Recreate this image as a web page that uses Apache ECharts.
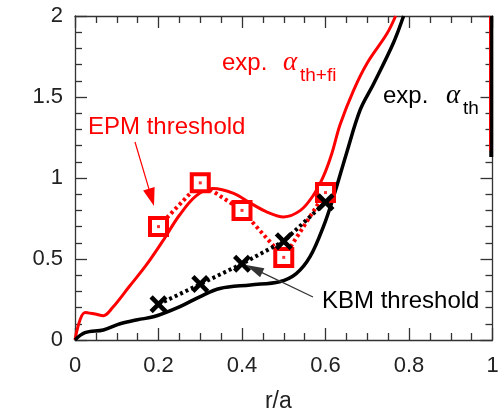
<!DOCTYPE html>
<html>
<head>
<meta charset="utf-8">
<script src="https://cdn.jsdelivr.net/npm/echarts@6/dist/echarts.min.js"></script>
<style>
  html, body { margin: 0; padding: 0; background: #fff; }
  #wrap { position: relative; width: 503px; height: 413px; }
  #frame, #plot { position: absolute; left: 0; top: 0; width: 503px; height: 413px; }
</style>
</head>
<body>
<div id="wrap"><div id="frame"></div><div id="plot"></div></div>
<script>
// Experimental pressure-gradient profiles alpha(r/a)
const alphaThFi = [
  [0, 0], [0.024, 0.17], [0.048, 0.16], [0.068, 0.15], [0.09, 0.2], [0.13, 0.33],
  [0.17, 0.46], [0.21, 0.61], [0.25, 0.77], [0.29, 0.89], [0.33, 0.935], [0.38, 0.905],
  [0.42, 0.845], [0.46, 0.79], [0.50, 0.76], [0.54, 0.80], [0.57, 0.89], [0.595, 1.01],
  [0.615, 1.15], [0.635, 1.33], [0.667, 1.54], [0.70, 1.71], [0.747, 1.89], [0.768, 2.0]
];
const alphaTh = [
  [0, 0], [0.024, 0.045], [0.068, 0.062], [0.108, 0.10], [0.15, 0.125], [0.19, 0.145],
  [0.25, 0.205], [0.30, 0.268], [0.347, 0.318], [0.42, 0.34], [0.49, 0.36], [0.53, 0.41],
  [0.563, 0.514], [0.595, 0.70], [0.62, 0.89], [0.65, 1.15], [0.683, 1.42], [0.715, 1.58],
  [0.762, 1.83], [0.787, 2.0]
];
// profile segments at the plasma edge
const edgeTh = [[0.997, 2.0], [0.997, 1.13]];
const edgeThFi = [[0.993, 2.0], [0.993, 1.17]];

// stability thresholds from the linear scans
const scanRadii = [0.2, 0.3, 0.4, 0.5, 0.6];
const epmThreshold = [0.70, 0.97, 0.80, 0.51, 0.91];
const kbmThreshold = [0.22, 0.345, 0.47, 0.61, 0.85];

const xTicks = [0, 0.2, 0.4, 0.6, 0.8, 1];
const yTicks = [0, 0.5, 1, 1.5, 2];

const RED = '#ff0000';
const BLACK = '#000000';
const AXIS = '#333333';
const TICK_TEXT = '#222222';
const SANS = 'Liberation Sans';
const SERIF = 'Liberation Serif';
const GRID = { left: 75, right: 10.5, top: 16, bottom: 73, outerBoundsMode: 'none' };

const pairs = (xs, ys) => xs.map((x, i) => [x, ys[i]]);

const crossPath = 'path://M0,1.8L1.8,0L5,3.2L8.2,0L10,1.8L6.8,5L10,8.2L8.2,10L5,6.8L1.8,10L0,8.2L3.2,5Z';

function arrow(x1, y1, x2, y2, color, width, len, half) {
  const dx = x2 - x1, dy = y2 - y1;
  const d = Math.hypot(dx, dy);
  const ux = dx / d, uy = dy / d;
  const bx = x2 - ux * len, by = y2 - uy * len;
  const nx = -uy, ny = ux;
  return [
    { type: 'line', shape: { x1, y1, x2: bx + ux * 2, y2: by + uy * 2 },
      style: { stroke: color, lineWidth: width }, z: 50 },
    { type: 'polygon',
      shape: { points: [[x2, y2], [bx + nx * half, by + ny * half], [bx - nx * half, by - ny * half]] },
      style: { fill: color }, z: 50 }
  ];
}

function label(text, x, y, color, size, family, italic, align) {
  return { type: 'text', x, y, z: 60,
    style: { text, fill: color, fontSize: size, fontFamily: family,
      fontStyle: italic ? 'italic' : 'normal', align: align || 'left', verticalAlign: 'middle' } };
}

// Boxed frame: every side carries inward major and minor ticks
function makeAxis(position, max, interval, minorSplit) {
  return {
    type: 'value', position, min: 0, max, interval,
    axisLine: { show: true, onZero: false, lineStyle: { color: AXIS, width: 1.3 } },
    axisTick: { show: true, inside: true, length: 12, lineStyle: { color: AXIS, width: 1.3 } },
    minorTick: { show: true, splitNumber: minorSplit, length: 7, lineStyle: { color: AXIS, width: 1.3 } },
    splitLine: { show: false },
    minorSplitLine: { show: false },
    axisLabel: { show: false }
  };
}

// Layer 1: the axis frame
const frame = echarts.init(document.getElementById('frame'));
frame.setOption({
  animation: false,
  backgroundColor: '#ffffff',
  grid: GRID,
  xAxis: [makeAxis('bottom', 1, 0.2, 4), makeAxis('top', 1, 0.2, 4)],
  yAxis: [makeAxis('left', 2, 0.5, 5), makeAxis('right', 2, 0.5, 5)],
  series: [{ type: 'line', data: [], silent: true }]
});

// Layer 2: profiles, thresholds, tick labels and annotations on the same scales
const plot = echarts.init(document.getElementById('plot'));
plot.setOption({
  animation: false,
  backgroundColor: 'transparent',
  grid: GRID,
  xAxis: { type: 'value', min: 0, max: 1, show: false },
  yAxis: { type: 'value', min: 0, max: 2, show: false },
  series: [
    { name: 'exp. alpha th+fi', type: 'line', data: alphaThFi, smooth: 0.35,
      showSymbol: false, lineStyle: { color: RED, width: 3 }, z: 3 },
    { name: 'exp. alpha th', type: 'line', data: alphaTh, smooth: 0.35,
      showSymbol: false, lineStyle: { color: BLACK, width: 3.5 }, z: 3 },
    { name: 'edge th', type: 'line', data: edgeTh, showSymbol: false,
      lineStyle: { color: BLACK, width: 4 }, z: 3 },
    { name: 'edge th+fi', type: 'line', data: edgeThFi, showSymbol: false,
      lineStyle: { color: RED, width: 1 }, z: 4 },
    { name: 'EPM threshold', type: 'line', data: pairs(scanRadii, epmThreshold),
      showSymbol: true, symbol: 'rect', symbolSize: 17,
      itemStyle: { color: '#ffffff', borderColor: RED, borderWidth: 4 },
      lineStyle: { color: RED, width: 4, type: [3, 3] }, z: 5 },
    { name: 'EPM threshold centre', type: 'scatter', data: pairs(scanRadii, epmThreshold),
      symbol: 'rect', symbolSize: 3, itemStyle: { color: RED }, z: 6 },
    { name: 'KBM threshold', type: 'line', data: pairs(scanRadii, kbmThreshold),
      showSymbol: true, symbol: crossPath, symbolSize: 18,
      itemStyle: { color: BLACK }, lineStyle: { color: BLACK, width: 4, type: [3, 3] }, z: 7 }
  ]
});

// Tick labels and the axis title, placed through the chart's own scales
const toPx = (x, y) => plot.convertToPixel({ xAxisIndex: 0, yAxisIndex: 0 }, [x, y]);
const axisTexts = [];
xTicks.forEach(v => {
  const p = toPx(v, 0);
  axisTexts.push(label(String(v), p[0], p[1] + 26, TICK_TEXT, 22, SANS, false, 'center'));
});
yTicks.forEach(v => {
  const p = toPx(0, v);
  axisTexts.push(label(String(v), p[0] - 12, p[1], TICK_TEXT, 22, SANS, false, 'right'));
});
const titlePos = toPx(0.487, 0);
axisTexts.push(label('r/a', titlePos[0], titlePos[1] + 62, TICK_TEXT, 23, SANS, false, 'center'));

plot.setOption({
  graphic: [
    ...axisTexts,
    label('exp.', 222, 63, RED, 24, SANS),
    label('\u03b1', 283, 63, RED, 27, SERIF, true),
    label('th+fi', 300, 76, RED, 19, SANS),
    label('exp.', 383, 96, BLACK, 24, SANS),
    label('\u03b1', 446, 96, BLACK, 27, SERIF, true),
    label('th', 463, 109, BLACK, 19, SANS),
    label('EPM threshold', 88, 127, RED, 24, SANS),
    label('KBM threshold', 322, 301, BLACK, 24, SANS),
    ...arrow(135, 142, 154, 206, RED, 1.2, 18, 6),
    ...arrow(313, 297, 246, 265, '#333333', 1.2, 18, 5)
  ]
});
</script>
</body>
</html>
